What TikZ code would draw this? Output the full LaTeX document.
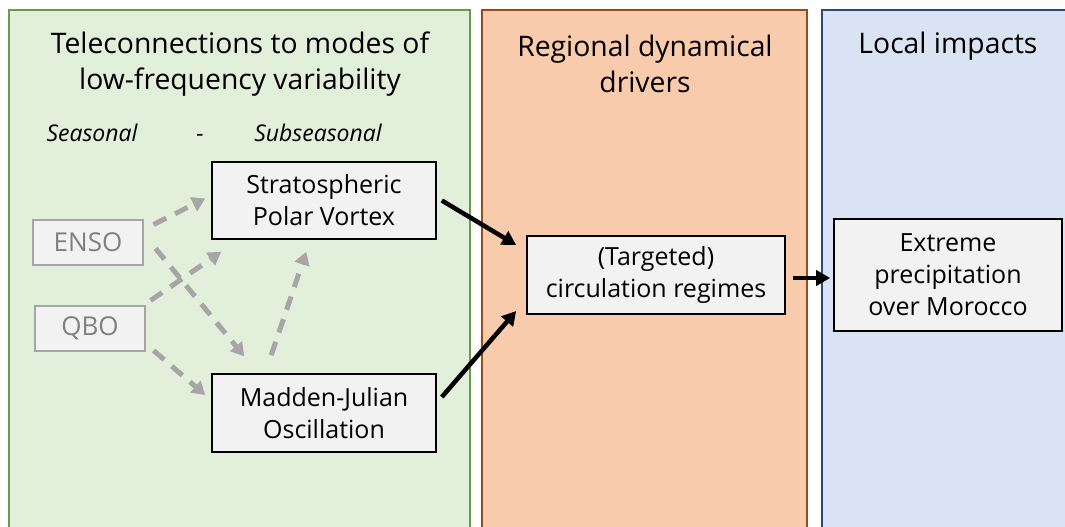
\documentclass[tikz,border=0pt]{standalone}
\usepackage{fontspec}
\setmainfont{Open Sans}
\usetikzlibrary{arrows.meta}
\definecolor{gfill}{HTML}{E2EFDA}
\definecolor{gline}{HTML}{6A9A4A}
\definecolor{ofill}{HTML}{F8CBAD}
\definecolor{oline}{HTML}{9C4A17}
\definecolor{bfill}{HTML}{DAE3F3}
\definecolor{bline}{HTML}{2F4A78}
\definecolor{boxfill}{HTML}{F2F2F2}
\definecolor{dgray}{HTML}{A6A6A6}
\definecolor{tgray}{HTML}{808080}
\tikzset{
  panel/.style={line width=2pt},
  ptitle/.style={font=\fontsize{28.3}{36}\selectfont, align=center, inner sep=0pt},
  mainbox/.style={draw=black, fill=boxfill, line width=1.6pt, align=center,
    font=\fontsize{25}{32}\selectfont, inner sep=0pt},
  greybox/.style={draw=dgray, fill=boxfill, line width=1.2pt, text=tgray,
    font=\fontsize{26}{30}\selectfont, inner sep=0pt, minimum width=110pt, minimum height=45pt},
  blackarrow/.style={line width=4.5pt, -{Triangle[length=14pt,width=15pt]}},
  greyarrow/.style={line width=5pt, draw=dgray, dash pattern=on 14pt off 10pt,
    -{Triangle[length=13pt,width=15pt,fill=dgray]}},
  scale label/.style={font=\itshape\fontsize{23}{26}\selectfont, inner sep=0pt}
}
\begin{document}
\begin{tikzpicture}[x=1pt,y=-1pt]
\useasboundingbox (0,0) rectangle (1065,527);
\fill[white] (0,0) rectangle (1065,527);
% panels
\draw[panel, draw=gline, fill=gfill] (9,10) rectangle (470,540);
\draw[panel, draw=oline, fill=ofill] (482,10) rectangle (807,540);
\draw[panel, draw=bline, fill=bfill] (822,10) rectangle (1080,540);
% titles
\node[ptitle] (t1) at (240,64) {Teleconnections to modes of\\low-frequency variability};
\node[ptitle] (t2) at (645,64) {Regional dynamical\\drivers};
\node[ptitle] (t3) at (948,46) {Local impacts};
% timescale labels
\node[scale label] (seas) at (92,133) {Seasonal};
\node[scale label] (dash) at (200,138) {-};
\node[scale label] (subs) at (318,133) {Subseasonal};
% boxes
\node[greybox] (enso) at (88,242.5) {ENSO};
\node[greybox] (qbo) at (90,328.5) {QBO};
\node[mainbox, minimum width=224pt, minimum height=77pt] (spv) at (324,200.5) {Stratospheric\\Polar Vortex};
\node[mainbox, minimum width=224pt, minimum height=78pt] (mjo) at (324,413) {Madden-Julian\\Oscillation};
\node[mainbox, minimum width=258pt, minimum height=78pt] (reg) at (656,275) {(Targeted)\\circulation regimes};
\node[mainbox, minimum width=228pt, minimum height=112pt] (ext) at (948,275) {Extreme\\precipitation\\over Morocco};
% grey dashed arrows
\draw[greyarrow] ([shift={(10,-18)}]enso.east) -- ([shift={(-6,-2)}]spv.west);
\draw[greyarrow] ([shift={(12,6)}]enso.east) -- ([shift={(33,-17)}]mjo.north west);
\draw[greyarrow] ([shift={(5,-28)}]qbo.east) -- ([shift={(10,12)}]spv.south west);
\draw[greyarrow] ([shift={(8,22)}]qbo.east) -- ([shift={(-6,-18)}]mjo.west);
\draw[greyarrow] ([shift={(60,-18)}]mjo.north west) -- ([shift={(95,12)}]spv.south west);
% black arrows
\draw[blackarrow] ([shift={(5,0)}]spv.east) -- ([shift={(-10,-30)}]reg.west);
\draw[blackarrow] ([shift={(5,-16)}]mjo.east) -- ([shift={(-10,36)}]reg.west);
\draw[blackarrow] ([shift={(7,3)}]reg.east) -- ([shift={(-3,3)}]ext.west);
\end{tikzpicture}
\end{document}
